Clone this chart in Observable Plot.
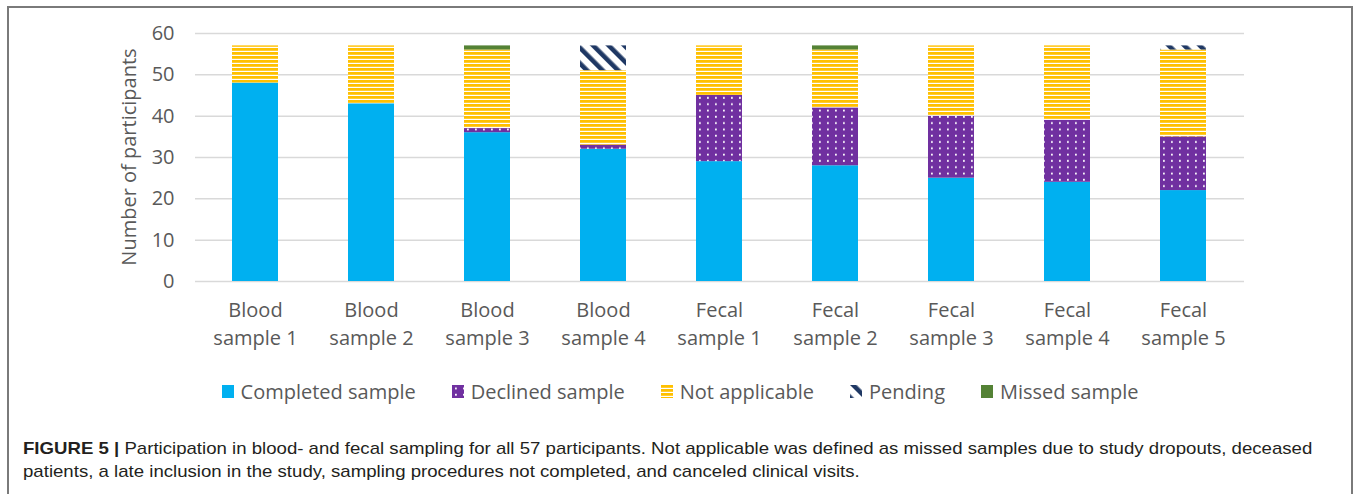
<!DOCTYPE html>
<html>
<head>
<meta charset="utf-8">
<script src="https://cdn.jsdelivr.net/npm/d3@7"></script>
<script src="https://cdn.jsdelivr.net/npm/@observablehq/plot@0.6"></script>
<style>
  html, body { margin: 0; padding: 0; background: #fff; }
  body { width: 1360px; height: 494px; position: relative; overflow: hidden; font-family: "Open Sans", sans-serif; }
  #frame { position: absolute; left: 7px; top: 6px; width: 1346px; height: 600px; border: 2px solid #7a7a7a; box-sizing: border-box; }
  #chart { position: absolute; left: 0; top: 0; }
  #ylabel { position: absolute; left: 128px; top: 157px; transform: translate(-50%, -50%) rotate(-90deg); font-size: 20px; color: #595959; white-space: nowrap; }
  #legend { position: absolute; left: 0; top: 378px; width: 1360px; display: flex; justify-content: center; gap: 36px; font-size: 20px; color: #595959; }
  #legend .item { display: flex; align-items: center; gap: 7px; }
  #legend svg { display: block; }
  #caption { position: absolute; left: 23px; top: 437px; font-family: "Liberation Sans", Arial, sans-serif; font-size: 17px; line-height: 23px; color: #231f20; white-space: nowrap; transform: scaleX(1.095); transform-origin: 0 0; }
</style>
</head>
<body>
<svg width="0" height="0" style="position:absolute">
  <defs>
    <pattern id="naPat" width="8" height="4" patternUnits="userSpaceOnUse">
      <rect width="8" height="4" fill="#ffffff"/>
      <rect width="8" height="2.8" fill="#FFC000"/>
    </pattern>
    <pattern id="dotPat" width="8" height="6.3" patternUnits="userSpaceOnUse">
      <rect width="8" height="6.3" fill="#7030A0"/>
      <rect x="3" y="2.5" width="1.8" height="1.8" fill="#ffffff"/>
    </pattern>
    <pattern id="pendPat" width="11" height="11" patternUnits="userSpaceOnUse" patternTransform="rotate(-45)">
      <rect width="11" height="11" fill="#ffffff"/>
      <rect width="4.6" height="11" fill="#1F3864"/>
    </pattern>
  </defs>
</svg>
<div id="frame"></div>
<div id="chart"></div>
<div id="ylabel">Number of participants</div>
<div id="legend"></div>
<div id="caption"><b>FIGURE 5 |</b> Participation in blood- and fecal sampling for all 57 participants. Not applicable was defined as missed samples due to study dropouts, deceased<br>patients, a late inclusion in the study, sampling procedures not completed, and canceled clinical visits.</div>
<script>
const categories = ["Blood sample 1", "Blood sample 2", "Blood sample 3", "Blood sample 4", "Fecal sample 1", "Fecal sample 2", "Fecal sample 3", "Fecal sample 4", "Fecal sample 5"];
const seriesNames = ["Completed sample", "Declined sample", "Not applicable", "Pending", "Missed sample"];
const completed = [48, 43, 36, 32, 29, 28, 25, 24, 22];
const declined = [0, 0, 1, 1, 16, 14, 15, 15, 13];
const notApplicable = [9, 14, 19, 18, 12, 14, 17, 18, 21];
const pending = [0, 0, 0, 6, 0, 0, 0, 0, 1];
const missed = [0, 0, 1, 0, 0, 1, 0, 0, 0];
const yTicks = [0, 10, 20, 30, 40, 50, 60];

const seriesValues = [completed, declined, notApplicable, pending, missed];
const fills = ["#00B0F0", "url(#dotPat)", "url(#naPat)", "url(#pendPat)", "#548235"];

const data = [];
categories.forEach((c, i) => {
  seriesNames.forEach((s, j) => {
    data.push({category: c, series: s, value: seriesValues[j][i]});
  });
});

const chart = Plot.plot({
  width: 1360,
  height: 360,
  marginLeft: 195,
  marginRight: 116,
  marginTop: 33,
  marginBottom: 79,
  style: {fontFamily: "'Open Sans', sans-serif", color: "#595959", background: "transparent"},
  x: {domain: categories, paddingInner: 0.6, paddingOuter: 0.3, label: null},
  y: {domain: [0, 60], label: null},
  color: {type: "ordinal", domain: seriesNames, range: fills},
  marks: [
    Plot.gridY(yTicks, {stroke: "#d9d9d9", strokeOpacity: 1, strokeWidth: 1.5}),
    Plot.barY(data, {x: "category", y: "value", fill: "series", z: "series", order: seriesNames}),
    Plot.axisY(yTicks, {tickSize: 0, tickPadding: 21, fontSize: 20, label: null}),
    Plot.axisX({tickSize: 0, tickPadding: 16, fontSize: 20, lineHeight: 1.4, label: null,
      tickFormat: d => d.replace(" sample", "\nsample")})
  ]
});
document.getElementById("chart").appendChild(chart);

const legend = document.getElementById("legend");
seriesNames.forEach((s, j) => {
  const item = document.createElement("div");
  item.className = "item";
  item.innerHTML = `<svg width="12" height="13"><rect width="12" height="13" fill="${fills[j]}"/></svg><span>${s}</span>`;
  legend.appendChild(item);
});
</script>
</body>
</html>
